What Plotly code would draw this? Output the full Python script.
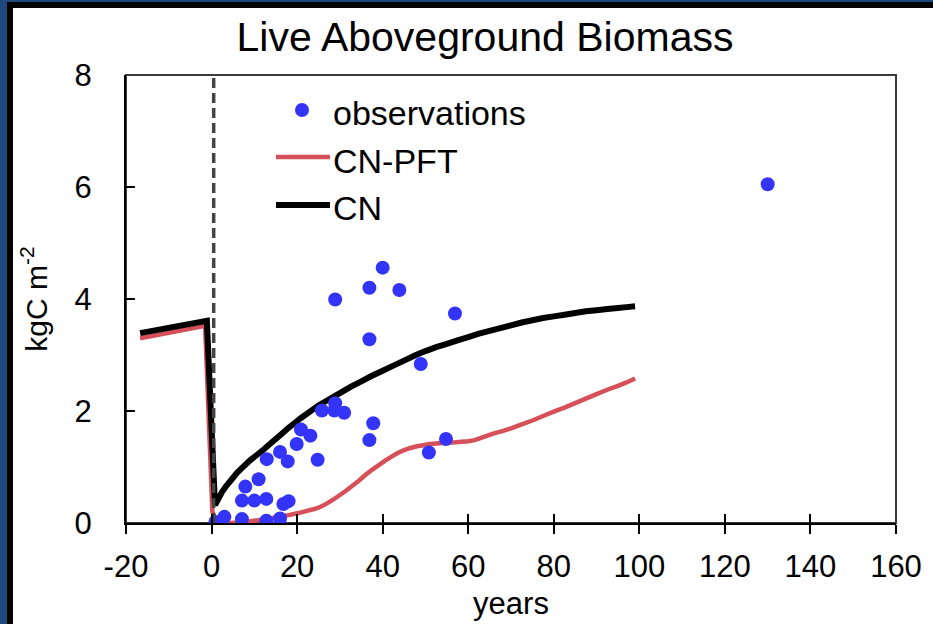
import plotly.graph_objects as go

# ---------------- data ----------------
obs_years = [0.9, 3.0, 7.1, 12.8, 16.0, 7.1, 10.0, 12.8, 16.8, 18.0,
             7.9, 11.0, 12.9, 16.0, 17.8, 19.9, 20.9, 23.1, 24.8, 25.8,
             28.9, 28.7, 31.0, 37.8, 36.9, 50.8, 54.8, 28.9, 36.9, 40.0,
             43.9, 56.9, 36.9, 48.9, 130.0]
obs_biomass = [0.02, 0.11, 0.07, 0.04, 0.08, 0.40, 0.40, 0.43, 0.34, 0.39,
               0.65, 0.78, 1.14, 1.27, 1.10, 1.41, 1.67, 1.56, 1.13, 2.01,
               2.14, 2.01, 1.97, 1.78, 1.48, 1.26, 1.50, 3.99, 4.20, 4.56,
               4.16, 3.74, 3.28, 2.84, 6.05]

cn_years = [-16.7, -1.1, 0.8, 1.5, 2.5, 3.5, 4.5, 6, 7.5, 9, 10.5, 12, 13.5, 15,
            16.5, 18, 19.5, 21, 23, 25, 27.5, 30, 32.5, 35, 37.5, 40, 42.5, 45,
            47.5, 50, 52.5, 55, 57.5, 60, 62.5, 65, 67.5, 70, 72.5, 75, 77.5, 80,
            82.5, 85, 87.5, 90, 92.5, 95, 97, 99]
cn_biomass = [3.39, 3.61, 0.32, 0.42, 0.56, 0.67, 0.76, 0.90, 1.01, 1.12, 1.21,
              1.30, 1.40, 1.50, 1.60, 1.70, 1.79, 1.88, 1.99, 2.10, 2.21, 2.32,
              2.43, 2.53, 2.63, 2.72, 2.81, 2.90, 2.99, 3.07, 3.14, 3.20, 3.26,
              3.32, 3.38, 3.43, 3.48, 3.53, 3.58, 3.62, 3.66, 3.69, 3.72, 3.75,
              3.78, 3.80, 3.82, 3.84, 3.855, 3.87]

pft_years = [-16.7, -1.5, 0.2, 1, 2, 3, 4.5, 6, 7.5, 9, 10.5, 12, 13.5, 15, 16.5,
             18, 19.5, 21, 22.5, 24, 25.5, 27, 28.5, 30, 31.5, 33, 34.5, 36, 37.5,
             39, 40.5, 42, 43.5, 45, 46.5, 48, 49.5, 51, 52.5, 54, 55.5, 57, 58.5,
             60, 61.5, 63, 64.5, 66, 68, 70, 72.5, 75, 77.5, 80, 82.5, 85, 87.5,
             90, 92.5, 95, 97, 99]
pft_biomass = [3.30, 3.52, 0.20, 0.03, 0.01, 0.0, 0.0, 0.01, 0.02, 0.03, 0.045,
               0.06, 0.08, 0.10, 0.12, 0.14, 0.165, 0.19, 0.22, 0.25, 0.29, 0.35,
               0.42, 0.50, 0.58, 0.67, 0.76, 0.86, 0.95, 1.03, 1.11, 1.18, 1.25,
               1.30, 1.34, 1.37, 1.39, 1.41, 1.42, 1.43, 1.435, 1.44, 1.45, 1.46,
               1.48, 1.52, 1.56, 1.60, 1.64, 1.69, 1.76, 1.83, 1.91, 1.99, 2.06,
               2.14, 2.22, 2.30, 2.38, 2.45, 2.51, 2.58]

disturbance_year = 0.5
y_span = [0, 8]

x_ticks = [-20, 0, 20, 40, 60, 80, 100, 120, 140, 160]
x_tick_labels = ["-20", "0", "20", "40", "60", "80", "100", "120", "140", "160"]
y_ticks = [0, 2, 4, 6, 8]
y_tick_labels = ["0", "2", "4", "6", "8"]

title_text = "Live Aboveground Biomass"
x_title = "years"
y_title = "kgC m<sup>-2</sup>"
legend_labels = ["observations", "CN-PFT", "CN"]

# ---------------- styles ----------------
FONT = "Liberation Sans, Arial, Helvetica, sans-serif"
BLUE_DOT = "#3434F8"
RED = "#D6505A"
BLACK = "#000000"
W, H = 933, 624
L, R, T, B = 126, 37, 75, 101
PW, PH = W - L - R, H - T - B


def px(xp):
    return (xp - L) / PW


def py(yp):
    return (H - B - yp) / PH


fig = go.Figure()

fig.add_trace(go.Scatter(x=pft_years, y=pft_biomass, mode="lines",
                         line=dict(color=RED, width=4.5, simplify=False),
                         showlegend=False, name=legend_labels[1]))
fig.add_trace(go.Scatter(x=cn_years, y=cn_biomass, mode="lines",
                         line=dict(color=BLACK, width=6, simplify=False),
                         showlegend=False, name=legend_labels[2]))
fig.add_trace(go.Scatter(x=[disturbance_year, disturbance_year], y=y_span,
                         mode="lines", xaxis="x2",
                         line=dict(color="#444444", width=3.5, dash="10px,5px"),
                         showlegend=False, hoverinfo="skip"))
fig.add_trace(go.Scatter(x=obs_years, y=obs_biomass, mode="markers",
                         marker=dict(color=BLUE_DOT, size=14, line=dict(width=0)),
                         showlegend=False, name=legend_labels[0]))

shapes = []
# slide background frame (blue + black strips on left and top)
shapes.append(dict(type="rect", xref="paper", yref="paper", x0=px(0), x1=px(7),
                   y0=py(H), y1=py(0), fillcolor="#1F497D", line=dict(width=0)))
shapes.append(dict(type="rect", xref="paper", yref="paper", x0=px(7), x1=px(13),
                   y0=py(H), y1=py(2), fillcolor="#000000", line=dict(width=0)))
shapes.append(dict(type="rect", xref="paper", yref="paper", x0=px(0), x1=px(W),
                   y0=py(2), y1=py(0), fillcolor="#1F497D", line=dict(width=0)))
shapes.append(dict(type="rect", xref="paper", yref="paper", x0=px(7), x1=px(W),
                   y0=py(8), y1=py(2), fillcolor="#000000", line=dict(width=0)))
# plot frame (top / right)
shapes.append(dict(type="rect", xref="paper", yref="paper", x0=0, x1=1, y0=0, y1=1,
                   line=dict(color="#3a3a3a", width=2), layer="below"))
# manual legend
shapes.append(dict(type="circle", xref="paper", yref="paper",
                   x0=px(302 - 7), x1=px(302 + 7), y0=py(110 + 7), y1=py(110 - 7),
                   fillcolor=BLUE_DOT, line=dict(width=0)))
shapes.append(dict(type="line", xref="paper", yref="paper", x0=px(276), x1=px(330),
                   y0=py(157), y1=py(157), line=dict(color=RED, width=4.5)))
shapes.append(dict(type="line", xref="paper", yref="paper", x0=px(276), x1=px(330),
                   y0=py(205), y1=py(205), line=dict(color=BLACK, width=6)))

annotations = []
for lab, ycen in zip(legend_labels, [113, 161, 208]):
    annotations.append(dict(text=lab, xref="paper", yref="paper", x=px(331), y=py(ycen),
                            xanchor="left", yanchor="middle", showarrow=False,
                            font=dict(family=FONT, size=34, color="black")))

fig.update_layout(
    width=W, height=H,
    margin=dict(l=L, r=R, t=T, b=B, pad=0, autoexpand=False),
    paper_bgcolor="white", plot_bgcolor="white",
    font=dict(family=FONT, color="black"),
    title=dict(text=title_text, x=485 / W, xref="container", xanchor="center",
               y=1 - 37 / H, yref="container", yanchor="middle",
               font=dict(family=FONT, size=41, color="black")),
    xaxis=dict(range=[-20, 160], tickvals=x_ticks, ticktext=x_tick_labels,
               ticks="outside", ticklen=9, automargin=False,
               tickwidth=2, tickcolor="black", showline=True, linecolor="black",
               linewidth=2, showgrid=False, zeroline=False,
               tickfont=dict(family=FONT, size=31, color="black"),
               ticklabelstandoff=6,
               title=dict(text=x_title, font=dict(family=FONT, size=31, color="black"),
                          standoff=9)),
    xaxis2=dict(range=[-20, 160], tickvals=x_ticks, ticks="inside", ticklen=9,
                tickwidth=2, tickcolor="black", overlaying="x", side="bottom",
                automargin=False,
                showticklabels=False, showline=False, showgrid=False, zeroline=False),
    yaxis=dict(range=y_span, tickvals=y_ticks, ticktext=y_tick_labels,
               ticks="inside", ticklen=9, automargin=False,
               tickwidth=2, tickcolor="black", showline=True, linecolor="black",
               linewidth=2, showgrid=False, zeroline=False,
               tickfont=dict(family=FONT, size=31, color="black"),
               ticklabelstandoff=26,
               title=dict(text=y_title, font=dict(family=FONT, size=30, color="black"),
                          standoff=18)),
    shapes=shapes,
    annotations=annotations,
    showlegend=False,
)

fig.write_html("out.html", config={"displayModeBar": False})
